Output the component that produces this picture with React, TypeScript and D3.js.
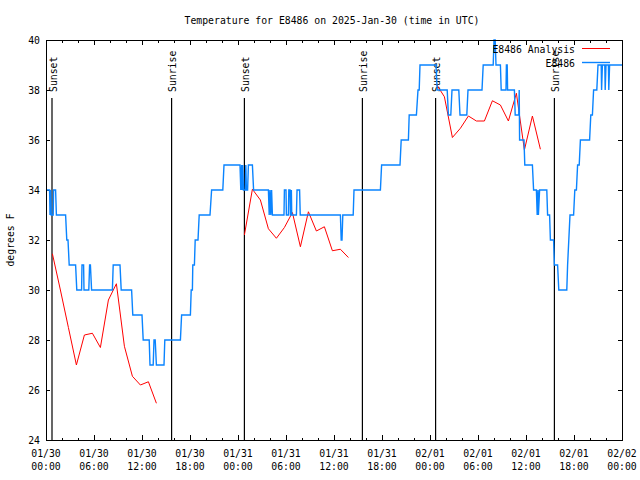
import React from 'react';
import * as d3 from 'd3';

const TITLE = 'Temperature for E8486 on 2025-Jan-30 (time in UTC)';
const Y_LABEL = 'degrees F';
const START_MS = Date.UTC(2025, 0, 30, 0, 0, 0);
const END_MS = Date.UTC(2025, 1, 2, 0, 0, 0);
const Y_TICKS = [24, 26, 28, 30, 32, 34, 36, 38, 40];
const SERIES_NAMES = ['E8486 Analysis', 'E8486'];

// Analysis (hours since 01/30 00:00 UTC, degrees F)
const anaHours1 = [0.8, 1.8, 2.8, 3.8, 4.8, 5.8, 6.8, 7.8, 8.8, 9.8, 10.8, 11.8, 12.8, 13.8];
const anaTemps1 = [31.45, 30.0, 28.5, 27.0, 28.2, 28.27, 27.7, 29.6, 30.25, 27.75, 26.55, 26.2, 26.33, 25.47];
const anaHours2 = [24.8, 25.8, 26.8, 27.8, 28.8, 29.8, 30.8, 31.8, 32.8, 33.8, 34.8, 35.8, 36.8, 37.8];
const anaTemps2 = [32.2, 34.03, 33.6, 32.45, 32.07, 32.5, 33.1, 31.73, 33.13, 32.36, 32.53, 31.57, 31.63, 31.3];
const anaHours3 = [48.8, 49.8, 50.8, 51.8, 52.8, 53.8, 54.8, 55.8, 56.8, 57.8, 58.8, 59.8, 60.8, 61.8];
const anaTemps3 = [38.23, 37.73, 36.1, 36.47, 36.96, 36.76, 36.76, 37.57, 37.4, 36.76, 37.87, 35.6, 36.96, 35.63];

// Observations (hours since 01/30 00:00 UTC, degrees F)
const obsHours = [
  0, 0.45, 0.5, 0.58, 0.65, 0.9, 0.95, 1.2, 1.3, 2.45, 2.6, 2.75, 2.9, 3.7, 3.85, 4.45, 4.5, 4.7, 4.75,
  5.35, 5.45, 5.55, 5.7, 8.3, 8.4, 9.25, 9.4, 10.7, 10.85, 12.0, 12.15, 12.9, 13.0, 13.4, 13.5, 13.65,
  13.8, 14.75, 14.85, 16.8, 16.95, 18.05, 18.15, 18.3, 18.35, 18.55, 18.65, 19.0, 19.15, 20.5, 20.7,
  22.1, 22.25, 24.25, 24.35, 24.45, 24.52, 24.6, 24.68, 24.9, 24.98, 25.05, 25.2, 25.3, 25.8, 25.95,
  27.8, 27.9, 28.0, 28.1, 28.2, 28.3, 29.75, 29.8, 30.0, 30.05, 30.3, 30.35, 30.5, 30.55, 30.62, 30.67,
  30.72, 31.3, 31.38, 31.7, 31.78, 36.8, 36.9, 37.0, 37.1, 38.4, 38.5, 41.8, 41.95, 44.25, 44.4, 45.3,
  45.4, 46.3, 46.5, 46.65, 46.75, 48.75, 48.9, 50.15, 50.3, 50.6, 50.75, 51.6, 51.75, 52.6, 52.75, 54.5,
  54.65, 55.9, 56.0, 56.15, 56.25, 56.8, 56.9, 57.5, 57.55, 57.65, 57.7, 58.55, 58.65, 59.1, 59.15, 59.2,
  59.75, 59.85, 60.8, 60.95, 61.3, 61.4, 61.5, 61.55, 61.7, 62.6, 62.7, 62.95, 63.05, 63.45, 63.55,
  63.95, 64.1, 65.1, 65.2, 65.35, 65.5, 65.95, 66.1, 66.3, 66.45, 66.65, 66.8, 67.95, 68.1, 68.3, 68.45,
  68.85, 69.0, 69.4, 69.45, 69.55, 69.85, 69.9, 70.0, 70.3, 70.35, 70.45, 72,
];
const obsTemps = [
  34, 34, 33, 34, 33, 33, 34, 34, 33, 33, 32, 32, 31, 31, 30, 30, 31, 31, 30,
  30, 31, 31, 30, 30, 31, 31, 30, 30, 29, 29, 28, 28, 27, 27, 28, 28,
  27, 27, 28, 28, 29, 29, 30, 30, 31, 31, 32, 32, 33, 33, 34,
  34, 35, 35, 34, 35, 34, 35, 34, 34, 35, 34, 34, 35, 35, 34,
  34, 33, 34, 33, 34, 33, 33, 34, 34, 33, 33, 34, 34, 33, 33, 34,
  33, 33, 34, 34, 33, 33, 32, 32, 33, 33, 34, 34, 35, 35, 36, 36,
  37, 37, 38, 38, 39, 39, 38, 38, 37, 37, 38, 38, 37, 37, 38, 38,
  39, 39, 40, 40, 39, 39, 38, 38, 39, 39, 38, 38, 37, 37, 38, 36,
  36, 35, 35, 34, 34, 33, 34, 33, 34, 34, 33, 33, 32, 32, 31,
  31, 30, 30, 31, 32, 33, 33, 34, 34, 35, 35, 36, 36, 37, 37, 38,
  38, 39, 39, 38, 39, 39, 38, 39, 39, 38, 39, 39,
];

// Sun events (hours since 01/30 00:00 UTC)
const sunHours = [0.75, 15.7, 24.8, 39.55, 48.7, 63.55];
const sunLabels = ['Sunset', 'Sunrise', 'Sunset', 'Sunrise', 'Sunset', 'Sunrise'];

const W = 640;
const H = 480;
const PL = 46;
const PR = 622;
const PT = 40;
const PB = 440;
const FONT = '"DejaVu Sans Mono", "Liberation Mono", monospace';
const FS = 9.8;
const RED = '#ff0000';
const BLUE = '#0a84ff';

const toDate = (h: number) => new Date(START_MS + h * 3600 * 1000);

export default function App() {
  const x = d3.scaleUtc().domain([new Date(START_MS), new Date(END_MS)]).range([PL, PR]);
  const y = d3.scaleLinear().domain([24, 40]).range([PB, PT]);

  const majorTicks = x.ticks(d3.utcHour.every(6)!);
  const minorTicks = x.ticks(d3.utcHour.every(2)!).filter((d) => d.getUTCHours() % 6 !== 0);
  const fmtDate = d3.utcFormat('%m/%d');
  const fmtTime = d3.utcFormat('%H:%M');

  const line = d3
    .line<[number, number]>()
    .x((d) => x(toDate(d[0])))
    .y((d) => y(d[1]));

  const anaSets = [
    [anaHours1, anaTemps1],
    [anaHours2, anaTemps2],
    [anaHours3, anaTemps3],
  ];
  const obsPts: [number, number][] = obsHours.map((h, i) => [h, obsTemps[i]]);

  return (
    <svg
      width={W}
      height={H}
      style={{ position: 'absolute', left: 0, top: 0, background: '#fff' }}
      fontFamily={FONT}
      fontSize={FS}
    >
      <rect x={0} y={0} width={W} height={H} fill="#fff" />
      <text x={332} y={20} textAnchor="middle" dominantBaseline="central">
        {TITLE}
      </text>
      <text
        transform={`translate(10,${(PT + PB) / 2}) rotate(-90)`}
        textAnchor="middle"
        dominantBaseline="central"
      >
        {Y_LABEL}
      </text>

      {/* Y ticks */}
      {Y_TICKS.map((t) => (
        <g key={'y' + t}>
          <line x1={PL} x2={PL + 4} y1={y(t)} y2={y(t)} stroke="#000" shapeRendering="crispEdges" />
          <line x1={PR} x2={PR - 4} y1={y(t)} y2={y(t)} stroke="#000" shapeRendering="crispEdges" />
          <text x={40} y={y(t)} textAnchor="end" dominantBaseline="central">
            {t}
          </text>
        </g>
      ))}

      {/* X ticks */}
      {majorTicks.map((d, i) => (
        <g key={'xm' + i}>
          <line x1={x(d)} x2={x(d)} y1={PB} y2={PB - 5} stroke="#000" shapeRendering="crispEdges" />
          <line x1={x(d)} x2={x(d)} y1={PT} y2={PT + 5} stroke="#000" shapeRendering="crispEdges" />
          <text x={x(d)} y={453} textAnchor="middle" dominantBaseline="central">
            {fmtDate(d)}
          </text>
          <text x={x(d)} y={466} textAnchor="middle" dominantBaseline="central">
            {fmtTime(d)}
          </text>
        </g>
      ))}
      {minorTicks.map((d, i) => (
        <g key={'xn' + i}>
          <line x1={x(d)} x2={x(d)} y1={PB} y2={PB - 2.5} stroke="#000" shapeRendering="crispEdges" />
          <line x1={x(d)} x2={x(d)} y1={PT} y2={PT + 2.5} stroke="#000" shapeRendering="crispEdges" />
        </g>
      ))}

      {/* Sun events */}
      {sunHours.map((h, i) => {
        const sx = x(toDate(h));
        return (
          <g key={'s' + i}>
            <line x1={sx} x2={sx} y1={98} y2={PB} stroke="#000" strokeWidth={1.2} />
            <text
              transform={`translate(${sx + 1},92) rotate(-90)`}
              textAnchor="start"
              dominantBaseline="central"
            >
              {sunLabels[i]}
            </text>
          </g>
        );
      })}

      {/* Analysis */}
      {anaSets.map(([hs, ts], k) => (
        <path
          key={'a' + k}
          d={line(hs.map((h, i) => [h, ts[i]] as [number, number])) || ''}
          fill="none"
          stroke={RED}
          strokeWidth={1}
        />
      ))}

      {/* Observations */}
      <path d={line(obsPts) || ''} fill="none" stroke={BLUE} strokeWidth={1.4} strokeLinejoin="miter" />

      {/* Legend */}
      <text x={575} y={49} textAnchor="end" dominantBaseline="central">
        {SERIES_NAMES[0]}
      </text>
      <line x1={582} x2={610} y1={48.5} y2={48.5} stroke={RED} strokeWidth={1} />
      <text x={575} y={63} textAnchor="end" dominantBaseline="central">
        {SERIES_NAMES[1]}
      </text>
      <line x1={582} x2={610} y1={62.5} y2={62.5} stroke={BLUE} strokeWidth={1.4} />

      {/* Frame */}
      <rect
        x={PL}
        y={PT}
        width={PR - PL}
        height={PB - PT}
        fill="none"
        stroke="#000"
        strokeWidth={1}
        shapeRendering="crispEdges"
      />
    </svg>
  );
}
